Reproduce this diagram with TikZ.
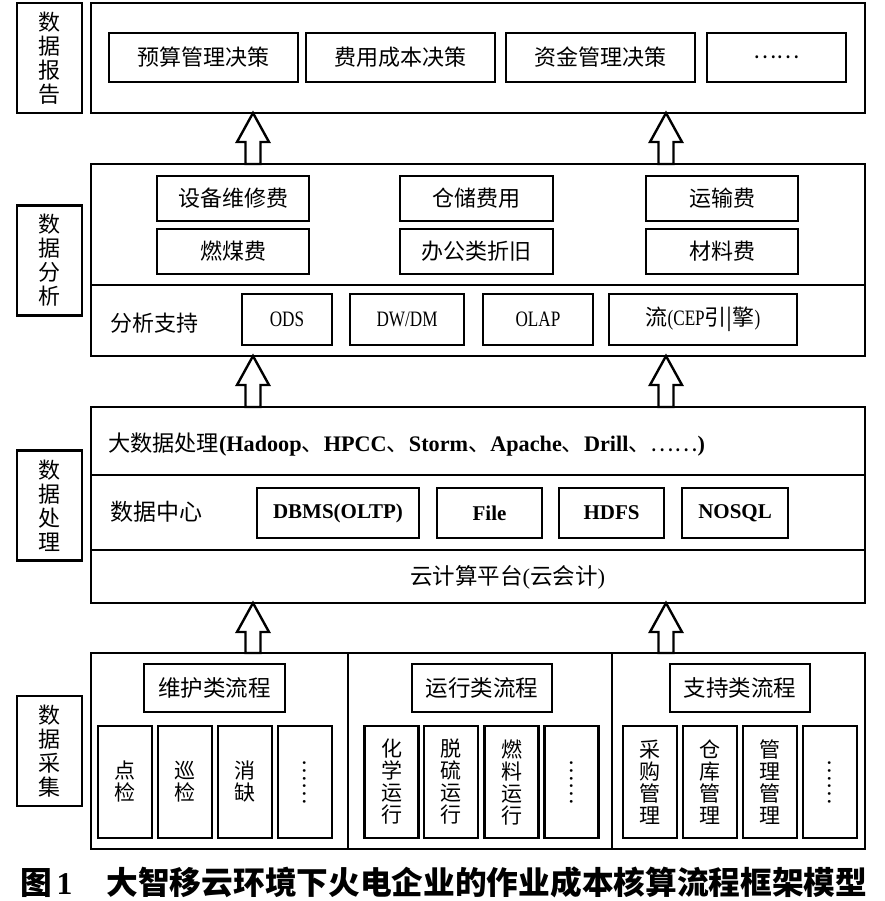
\documentclass[tikz,border=0pt]{standalone}
\usepackage{fontspec}
\setmainfont{Noto Sans CJK SC}
\newfontfamily\latin{Liberation Serif}
\newfontfamily\latcond[FakeStretch=0.78]{Liberation Serif}
\usetikzlibrary{calc}
\newcommand\uparr[3]{%
  \draw[blockarr] let \p1=(#2.south -| #1), \p2=(#3.north -| #1) in
    (\p1) -- ++(16pt,-29pt) -- ++(-8.5pt,0pt) -- (\x1+7.5pt,\y2) -- (\x1-7.5pt,\y2)
    -- (\x1-7.5pt,\y1-29pt) -- ++(-8.5pt,0pt) -- cycle;}
\begin{document}
\begin{tikzpicture}[x=1pt,y=-1pt,
  every node/.style={inner sep=0pt, outer sep=0pt},
  txt/.style={font=\fontsize{22}{24}\selectfont},
  mainframe/.style={draw, line width=2.6pt, minimum width=774pt},
  sidebox/.style={draw, line width=2.6pt, minimum width=65pt, minimum height=110pt, align=center, font=\fontsize{22}{24}\selectfont},
  ibox/.style={draw, line width=2.2pt, txt},
  vbox/.style={ibox, minimum width=54pt, minimum height=112pt, align=center, font=\fontsize{21}{22}\selectfont},
  divider/.style={line width=1.8pt},
  blockarr/.style={draw, line width=2.4pt, fill=white, line join=miter}
]
\fill[white] (0,0) rectangle (884,901);
\useasboundingbox (0,0) rectangle (884,901);

% ---------- report ----------
\node[mainframe, minimum height=110pt] (report) at (478,58) {};
\node[sidebox] (lreport) at (49.5,58) {数\\据\\报\\告};
\node[ibox, minimum width=189pt, minimum height=49pt] (r1) at (203.5,57.5) {预算管理决策};
\node[ibox, minimum width=189pt, minimum height=49pt] (r2) at (400.5,57.5) {费用成本决策};
\node[ibox, minimum width=189pt, minimum height=49pt] (r3) at (600.5,57.5) {资金管理决策};
\node[ibox, minimum width=139pt, minimum height=49pt] (r4) at (776.5,57.5) {\raisebox{-2pt}{……}};

% ---------- analysis ----------
\node[mainframe, minimum height=192pt] (analysis) at (478,260) {};
\node[sidebox] (lanalysis) at (49.5,260.5) {数\\据\\分\\析};
\coordinate (d1) at (0,285);
\draw[divider] (analysis.west |- d1) -- (analysis.east |- d1);
\node[ibox, minimum width=152pt, minimum height=45pt] (a1) at (233,198.5) {设备维修费};
\node[ibox, minimum width=152pt, minimum height=45pt] (a2) at (233,251.5) {燃煤费};
\node[ibox, minimum width=153pt, minimum height=45pt] (a3) at (476.5,198.5) {仓储费用};
\node[ibox, minimum width=153pt, minimum height=45pt] (a4) at (476.5,251.5) {办公类折旧};
\node[ibox, minimum width=152pt, minimum height=45pt] (a5) at (722,198.5) {运输费};
\node[ibox, minimum width=152pt, minimum height=45pt] (a6) at (722,251.5) {材料费};
\node[txt, anchor=west] (supp) at (110,323) {分析支持};
\node[ibox, minimum width=90pt, minimum height=51pt] (s1) at (287,319.5) {\latcond ODS};
\node[ibox, minimum width=114pt, minimum height=51pt] (s2) at (407,319.5) {\latcond DW/DM};
\node[ibox, minimum width=110pt, minimum height=51pt] (s3) at (538,319.5) {\latcond OLAP};
\node[ibox, minimum width=188pt, minimum height=51pt] (s4) at (703,319.5) {流{\latcond (CEP}引|擎{\latcond )}};

% ---------- processing ----------
\node[mainframe, minimum height=196pt] (proc) at (478,505) {};
\node[sidebox] (lproc) at (49.5,505.5) {数\\据\\处\\理};
\coordinate (d2) at (0,475);
\coordinate (d3) at (0,550);
\draw[divider] (proc.west |- d2) -- (proc.east |- d2);
\draw[divider] (proc.west |- d3) -- (proc.east |- d3);
\node[anchor=west, font=\fontsize{22.2}{24}\selectfont] (bigdata) at (108,445) {大数据处理{\latin\bfseries (Hadoop}、{\latin\bfseries HPCC}、{\latin\bfseries Storm}、{\latin\bfseries Apache}、{\latin\bfseries Drill}、……{\latin\bfseries )}};
\node[anchor=west, font=\fontsize{23}{24}\selectfont] (dc) at (110,512) {数据中心};
\node[ibox, minimum width=162pt, minimum height=50pt, font=\fontsize{21}{23}\selectfont] (p1) at (338,513) {\latin\bfseries DBMS(OLTP)};
\node[ibox, minimum width=105pt, minimum height=50pt, font=\fontsize{21}{23}\selectfont] (p2) at (489.5,513) {\latin\bfseries File};
\node[ibox, minimum width=105pt, minimum height=50pt, font=\fontsize{21}{23}\selectfont] (p3) at (611.5,513) {\latin\bfseries HDFS};
\node[ibox, minimum width=106pt, minimum height=50pt, font=\fontsize{21}{23}\selectfont] (p4) at (735,513) {\latin\bfseries NOSQL};
\node[anchor=center, font=\fontsize{22.5}{24}\selectfont] (cloud) at (507.5,577) {云计算平台{\latin(}云会计{\latin)}};

% ---------- collection ----------
\node[mainframe, minimum height=196pt] (coll) at (478,751) {};
\node[sidebox] (lcoll) at (49.5,751) {数\\据\\采\\集};
\coordinate (v1) at (348,0);
\coordinate (v2) at (612,0);
\draw[divider] (coll.north -| v1) -- (coll.south -| v1);
\draw[divider] (coll.north -| v2) -- (coll.south -| v2);
\node[ibox, minimum width=141pt, minimum height=48pt, font=\fontsize{22.5}{24}\selectfont] (h1) at (214.5,688) {维护类流程};
\node[ibox, minimum width=140pt, minimum height=48pt, font=\fontsize{22.5}{24}\selectfont] (h2) at (482,688) {运行类流程};
\node[ibox, minimum width=140pt, minimum height=48pt, font=\fontsize{22.5}{24}\selectfont] (h3) at (740,688) {支持类流程};
\node[vbox] (c1) at (125,782) {点\\检};
\node[vbox] (c2) at (185,782) {巡\\检};
\node[vbox] (c3) at (245,782) {消\\缺};
\node[vbox] (c4) at (305,782) {\rotatebox{-90}{……}};
\node[vbox] (c5) at (391.5,782) {化\\学\\运\\行};
\node[vbox] (c6) at (451,782) {脱\\硫\\运\\行};
\node[vbox] (c7) at (511.5,782) {燃\\料\\运\\行};
\node[vbox] (c8) at (571.5,782) {\rotatebox{-90}{……}};
\node[vbox] (c9) at (650,782) {采\\购\\管\\理};
\node[vbox] (c10) at (710,782) {仓\\库\\管\\理};
\node[vbox] (c11) at (770,782) {管\\理\\管\\理};
\node[vbox] (c12) at (830,782) {\rotatebox{-90}{……}};

% ---------- arrows ----------
\coordinate (ax1) at (253,0);
\coordinate (ax2) at (666,0);
\uparr{ax1}{report}{analysis}
\uparr{ax2}{report}{analysis}
\uparr{ax1}{analysis}{proc}
\uparr{ax2}{analysis}{proc}
\uparr{ax1}{proc}{coll}
\uparr{ax2}{proc}{coll}

% ---------- caption ----------
\node[anchor=west, font=\fontsize{31.7}{32}\selectfont\bfseries] (caption) at (20,882)
  {图\hspace{5pt}{\latin\bfseries 1}\hspace{34pt}大智移云环境下火电企业的作业成本核算流程框架模型};
\end{tikzpicture}
\end{document}
